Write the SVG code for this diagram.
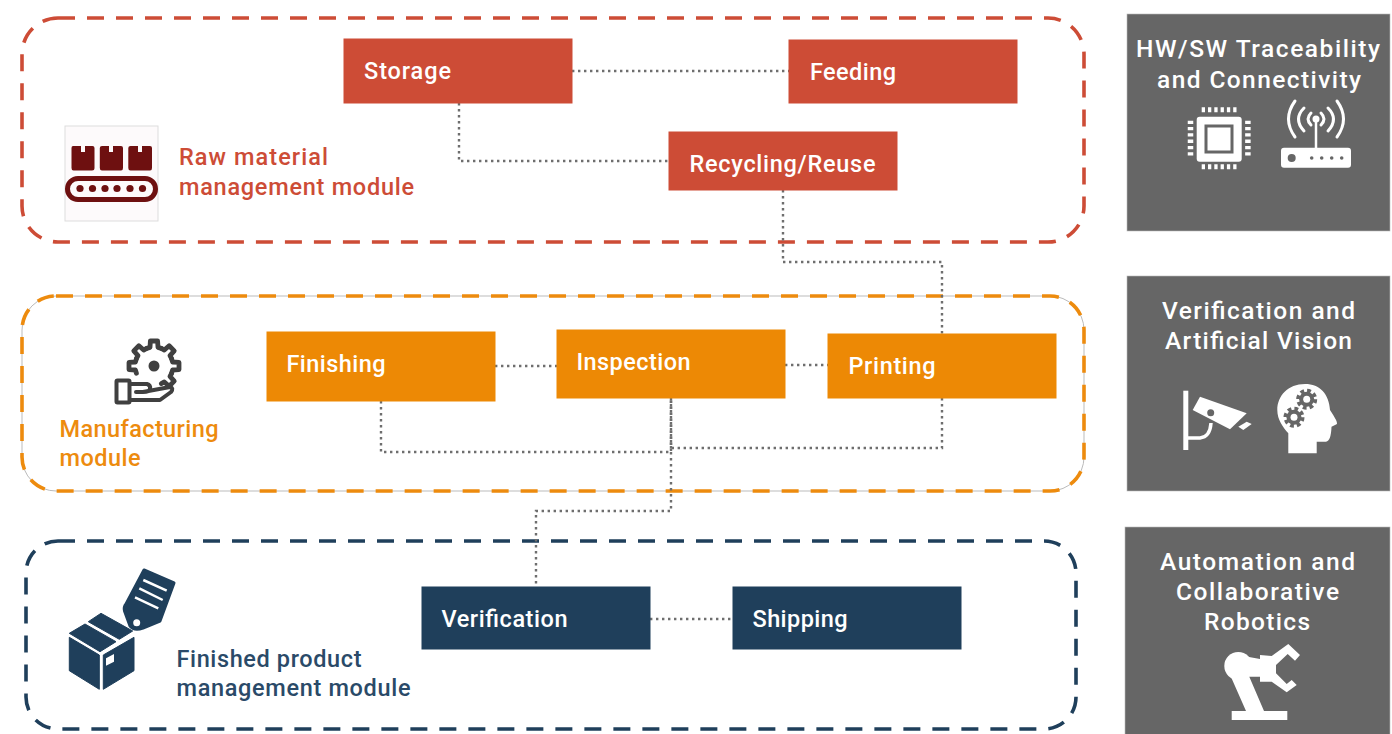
<svg xmlns="http://www.w3.org/2000/svg" xmlns:xlink="http://www.w3.org/1999/xlink" width="1392" height="734" viewBox="0 0 1392 734">
<style>
text{font-family:Roboto,"Liberation Sans",sans-serif;font-weight:500;font-size:23.5px}
.w{fill:#fff}
.p{font-size:24.5px}
.panel{fill:#666666;stroke:#bbb;stroke-width:.6}
.red{fill:#cd4c36}.org{fill:#ed8905}.nav{fill:#1f3f5b}
.mod{fill:none;stroke-width:3.6;stroke-dasharray:17 12}
.con{fill:none;stroke:#6e6e6e;stroke-width:2.4;stroke-dasharray:2.4 3.6}
.lr{fill:#cd4c36}.lo{fill:#ed8b0e}.ln{fill:#2a4a68}
</style>
<defs>
<polyline id="tooth" points="17.600,-7.300 18.600,-4 25,-3.600 25,3.600 18.600,4 17.600,7.300" fill="none" stroke="#404040" stroke-width="4.800" stroke-linejoin="round" stroke-linecap="round"/>
</defs>
<rect width="1392" height="734" fill="#fff"/>

<g id="module-raw">
<rect x="22" y="18" width="1062" height="224" rx="36" class="mod" stroke="#cd4c36"/>
</g>
<g id="module-manufacturing">
<rect x="22" y="296" width="1062" height="195" rx="34" fill="none" stroke="#bbb" stroke-width="1"/>
<rect x="22" y="296" width="1062" height="195" rx="34" class="mod" stroke="#ed8b0e"/>
</g>
<g id="module-finished">
<rect x="26" y="541" width="1050" height="188" rx="32" class="mod" stroke="#1f3f5b"/>
</g>

<g id="connectors">
<path class="con" d="M572 71H789"/>
<path class="con" d="M459 103V161H669"/>
<path class="con" d="M783 190V262H942V334"/>
<path class="con" d="M495 366H557"/>
<path class="con" d="M785 365H828"/>
<path class="con" d="M381 401V452H671V398"/>
<path class="con" d="M942 398V448H671V398"/>
<path class="con" d="M671 398V511H536V587"/>
<path class="con" d="M650 619H733"/>
</g>

<g id="node-storage"><rect x="343.500" y="38.500" width="229" height="65" class="red"/><text x="364" y="78.500" class="w" textLength="87">Storage</text></g>
<g id="node-feeding"><rect x="788.500" y="39.500" width="229" height="64" class="red"/><text x="810" y="80" class="w" textLength="86">Feeding</text></g>
<g id="node-recycling"><rect x="668.500" y="131.500" width="229" height="59" class="red"/><text x="689.500" y="172" class="w" textLength="186">Recycling/Reuse</text></g>
<g id="node-finishing"><rect x="266.500" y="331.500" width="229" height="70" class="org"/><text x="286.500" y="372" class="w" textLength="99">Finishing</text></g>
<g id="node-inspection"><rect x="556.500" y="329.500" width="229" height="69" class="org"/><text x="576.500" y="370" class="w" textLength="114">Inspection</text></g>
<g id="node-printing"><rect x="827.500" y="333.500" width="229" height="65" class="org"/><text x="848.500" y="374" class="w" textLength="87">Printing</text></g>
<g id="node-verification"><rect x="421.500" y="586.500" width="229" height="63" class="nav"/><text x="441.500" y="627" class="w" textLength="126">Verification</text></g>
<g id="node-shipping"><rect x="732.500" y="586.500" width="229" height="63" class="nav"/><text x="752.500" y="627" class="w" textLength="95">Shipping</text></g>

<g id="label-raw">
<rect x="65" y="126" width="93" height="95" fill="#fdfafb" stroke="#ddd"/>
<g fill="#6e1010">
<path d="M73 146H81V152H85V146H92.500Q94.500 146 94.500 148V168Q94.500 170.500 92 170.500H73.500Q71.500 170.500 71.500 168V148Q71.500 146 73 146Z"/>
<path d="M102 146H109V152H113V146H121Q123 146 123 148V168Q123 170.500 121 170.500H102Q99.800 170.500 99.800 168V148Q99.800 146 102 146Z"/>
<path d="M130.500 146H138V152H142V146H150Q152 146 152 148V168Q152 170.500 150 170.500H130.500Q128.300 170.500 128.300 168V148Q128.300 146 130.500 146Z"/>
<circle cx="80" cy="188.500" r="3.600"/><circle cx="92.500" cy="188.500" r="3.600"/><circle cx="105" cy="188.500" r="3.600"/><circle cx="117" cy="188.500" r="3.600"/><circle cx="130" cy="188.500" r="3.600"/><circle cx="142.500" cy="188.500" r="3.600"/>
</g>
<rect x="67.500" y="178.500" width="88" height="21" rx="10.500" fill="none" stroke="#6e1010" stroke-width="5"/>
<text x="179" y="165" class="lr" textLength="149">Raw material</text>
<text x="179" y="195" class="lr" textLength="235">management module</text>
</g>

<g id="label-manufacturing">
<g transform="translate(154 366)">
<use xlink:href="#tooth" href="#tooth"/>
<use xlink:href="#tooth" href="#tooth" transform="rotate(45)"/>
<use xlink:href="#tooth" href="#tooth" transform="rotate(180)"/>
<use xlink:href="#tooth" href="#tooth" transform="rotate(225)"/>
<use xlink:href="#tooth" href="#tooth" transform="rotate(270)"/>
<use xlink:href="#tooth" href="#tooth" transform="rotate(315)"/>
<circle r="5.500" fill="#404040"/>
</g>
<rect x="116.500" y="380.500" width="13" height="22" rx="1" fill="#fff" stroke="#404040" stroke-width="4"/>
<path d="M130 384H147Q151 385 150 389Q149 392 143 392H136M143 392L170 387Q174 388 171 392L160 400H130" fill="none" stroke="#404040" stroke-width="4" stroke-linejoin="round" stroke-linecap="round"/>
<text x="59.500" y="437" class="lo" textLength="159">Manufacturing</text>
<text x="59.500" y="466" class="lo" textLength="81">module</text>
</g>

<g id="label-finished">
<g fill="#1f3f5b" stroke="#1f3f5b" stroke-width="1" stroke-linejoin="round">
<polygon points="69.300,637.300 99.300,655 99.300,689.300 69.300,670.700"/>
<polygon points="103.300,655 134,637.300 134,670.700 103.300,689.300"/>
<polygon points="69.300,633.300 85,624 116,641.700 100,651.700"/>
<polygon points="88.300,621.700 101,613.300 132.700,631 119.300,639.300"/>
<path d="M144 570L174 583L160 621L143 628Q134 631 130 626L124.500 611Q123.500 607 126 604Z" stroke-width="3"/>
</g>
<polygon points="106,658.300 114,654 114,661.700 106,665.700" fill="#fff"/>
<circle cx="136.700" cy="622.700" r="3.500" fill="#fff"/>
<path d="M143.300 580L166.700 590.700M139.300 588.300L162.700 600M135 597.300L158.300 608.300" stroke="#fff" stroke-width="2.500" fill="none"/>
<text x="176.500" y="667" class="ln" textLength="185">Finished product</text>
<text x="176.500" y="696" class="ln" textLength="234">management module</text>
</g>

<g id="panel-traceability">
<rect x="1127" y="14" width="263" height="217" class="panel"/>
<text x="1136" y="57" class="w p" textLength="244">HW/SW Traceability</text>
<text x="1157" y="88" class="w p" textLength="204">and Connectivity</text>
<rect x="1196.700" y="116.700" width="45" height="45" rx="3" fill="#fff"/>
<rect x="1206" y="126" width="26" height="26" fill="#fff" stroke="#666" stroke-width="3"/>
<path d="M1201.700 109.800H1236.700M1201.700 166.800H1236.700" stroke="#fff" stroke-width="5" stroke-dasharray="3.300 3" fill="none"/>
<path d="M1190.500 120.700V156.700M1247.900 120.700V156.700" stroke="#fff" stroke-width="5.500" stroke-dasharray="3.300 3" fill="none"/>
<rect x="1281" y="147.700" width="70" height="20" rx="3" fill="#fff"/>
<circle cx="1291.700" cy="158" r="4" fill="#666"/>
<g fill="#666"><circle cx="1311.700" cy="158" r="1.800"/><circle cx="1321.700" cy="158" r="1.800"/><circle cx="1331.700" cy="158" r="1.800"/><circle cx="1341.700" cy="158" r="1.800"/></g>
<path d="M1316 119V148" stroke="#fff" stroke-width="2.500"/>
<circle cx="1316" cy="119" r="3.500" fill="#fff"/>
<g stroke-width="3" stroke-linecap="round" fill="none" stroke="#fff">
<path d="M1295 101Q1282 119 1295 137M1337 101Q1350 119 1337 137"/>
<path d="M1304 108Q1293 119 1304 131M1328 108Q1339 119 1328 131"/>
<path d="M1311 113Q1305 119 1311 125M1321 113Q1327 119 1321 125"/>
</g>
</g>

<g id="panel-vision">
<rect x="1127" y="276" width="263" height="215" class="panel"/>
<text x="1162" y="319" class="w p" textLength="193">Verification and</text>
<text x="1165" y="349" class="w p" textLength="187">Artificial Vision</text>
<rect x="1183.300" y="390.700" width="5" height="59.300" fill="#fff"/>
<path d="M1188 438H1200Q1210 437 1211 423" fill="none" stroke="#fff" stroke-width="3.500"/>
<polygon points="1200,396.700 1246.700,413.300 1230,429.300 1192.700,410" fill="#fff"/>
<circle cx="1210.700" cy="412.700" r="3.500" fill="#666"/>
<polygon points="1238.300,426.700 1246.700,421.700 1251.700,424 1243.300,430" fill="#fff"/>
<path d="M1305 384C1288 384 1277.300 396 1277.300 410C1277.300 420 1283 427 1288.300 433.300V453.300H1316.700V441.700H1326Q1331 441 1331.500 426.700L1337 424Q1338 422 1330 410C1329 394 1320 384 1305 384Z" fill="#fff"/>
<g fill="#666" stroke="#666">
<circle cx="1306.700" cy="399.300" r="7.500" stroke-width="0"/>
<circle cx="1306.700" cy="399.300" r="8.500" fill="none" stroke-width="4" stroke-dasharray="3.700 3"/>
<circle cx="1294" cy="417.300" r="7.500" stroke-width="0"/>
<circle cx="1294" cy="417.300" r="8.500" fill="none" stroke-width="4" stroke-dasharray="3.700 3"/>
</g>
<circle cx="1306.700" cy="399.300" r="3.500" fill="#fff"/>
<circle cx="1294" cy="417.300" r="3.500" fill="#fff"/>
</g>

<g id="panel-robotics">
<rect x="1125" y="527" width="265" height="210" class="panel"/>
<text x="1160" y="570" class="w p" textLength="195">Automation and</text>
<text x="1176" y="600" class="w p" textLength="163">Collaborative</text>
<text x="1204" y="630" class="w p" textLength="106">Robotics</text>
<rect x="1231.700" y="711" width="55.600" height="9" fill="#fff"/>
<circle cx="1238.300" cy="666" r="14" fill="#fff"/>
<polygon fill="#fff" points="1238,655 1260,659 1260,655 1271.700,656 1288.300,644 1300,655 1295,660.700 1287.700,654 1276,665 1276,673.300 1286.700,684 1291.700,680 1296.700,685 1286.700,692.300 1271.700,681.700 1260,681.700 1260,676.700 1249.300,676.700 1264,711 1246,711 1231,677"/>
</g>
</svg>
